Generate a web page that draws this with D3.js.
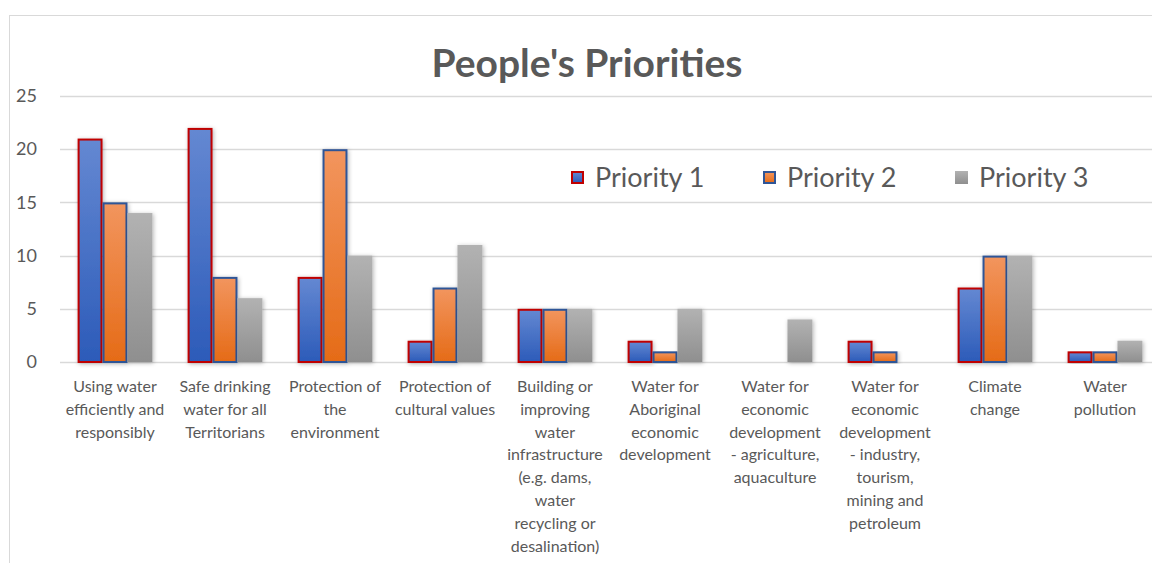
<!DOCTYPE html>
<html>
<head>
<meta charset="utf-8">
<script src="https://cdn.jsdelivr.net/npm/d3@7"></script>
<style>
  body { margin: 0; background: #fff; }
  svg { display: block; font-family: Lato, "Open Sans", sans-serif; }
</style>
</head>
<body>
<div id="chart"></div>
<script>
// chart data
var categories = [
  ["Using water", "efficiently and", "responsibly"],
  ["Safe drinking", "water for all", "Territorians"],
  ["Protection of", "the", "environment"],
  ["Protection of", "cultural values"],
  ["Building or", "improving", "water", "infrastructure", "(e.g. dams,", "water", "recycling or", "desalination)"],
  ["Water for", "Aboriginal", "economic", "development"],
  ["Water for", "economic", "development", "- agriculture,", "aquaculture"],
  ["Water for", "economic", "development", "- industry,", "tourism,", "mining and", "petroleum"],
  ["Climate", "change"],
  ["Water", "pollution"]
];
var seriesNames = ["Priority 1", "Priority 2", "Priority 3"];
var priority1 = [21, 22, 8, 2, 5, 2, 0, 2, 7, 1];
var priority2 = [15, 8, 20, 7, 5, 1, 0, 1, 10, 1];
var priority3 = [14, 6, 10, 11, 5, 5, 4, 0, 10, 2];
var yTicks = [0, 5, 10, 15, 20, 25];

var svgWidth = 1152;
var svgHeight = 563;

var svg = d3.select("#chart")
  .append("svg")
  .attr("width", svgWidth)
  .attr("height", svgHeight);

var defs = svg.append("defs");

// gradients for the bars
var fills = [
  {id: "g1", top: "#6488d2", bottom: "#2c5bb9", stroke: "#c00000"},
  {id: "g2", top: "#f2955e", bottom: "#e56b17", stroke: "#2f5597"},
  {id: "g3", top: "#b2b2b2", bottom: "#8f8f8f", stroke: "none"}
];
fills.forEach(function(f) {
  var g = defs.append("linearGradient")
    .attr("id", f.id)
    .attr("x1", 0).attr("y1", 0).attr("x2", 0).attr("y2", 1);
  g.append("stop").attr("offset", "0%").attr("stop-color", f.top);
  g.append("stop").attr("offset", "100%").attr("stop-color", f.bottom);
});

var shadow = defs.append("filter")
  .attr("id", "shadow")
  .attr("x", "-30%").attr("y", "-10%")
  .attr("width", "160%").attr("height", "130%");
shadow.append("feDropShadow")
  .attr("dx", 1).attr("dy", 1)
  .attr("stdDeviation", 2)
  .attr("flood-color", "#000")
  .attr("flood-opacity", 0.3);

// outer chart frame
svg.append("rect")
  .attr("x", 9.5).attr("y", 15.5)
  .attr("width", 1200).attr("height", 600)
  .attr("fill", "none")
  .attr("stroke", "#d9d9d9");

// scales
var x0 = d3.scaleBand()
  .domain(d3.range(categories.length))
  .range([60, 1160])
  .paddingInner(0.32)
  .paddingOuter(0.16);

var x1 = d3.scaleBand()
  .domain(d3.range(seriesNames.length))
  .range([0, x0.bandwidth()]);

var yScale = d3.scaleLinear()
  .domain([0, 25])
  .range([362, 96]);

// gridlines
svg.append("g")
  .selectAll("line")
  .data(yTicks)
  .enter()
  .append("line")
  .attr("x1", 60)
  .attr("x2", 1160)
  .attr("y1", d => Math.round(yScale(d)) + 0.5)
  .attr("y2", d => Math.round(yScale(d)) + 0.5)
  .attr("stroke", "#d9d9d9")
  .attr("stroke-width", 1.5);

// left axis labels
var leftAxis = d3.axisLeft(yScale).tickValues(yTicks).tickSize(0).tickPadding(0);
var yAxisG = svg.append("g")
  .attr("transform", "translate(37, 0)")
  .call(leftAxis);
yAxisG.select(".domain").remove();
yAxisG.selectAll("text")
  .attr("font-size", 18)
  .attr("font-family", "Lato, sans-serif")
  .attr("fill", "#595959");

// bars
var series = [priority1, priority2, priority3];
var barData = [];
series.forEach(function(vals, s) {
  vals.forEach(function(v, i) {
    barData.push({s: s, i: i, v: v});
  });
});

svg.append("g")
  .selectAll("rect")
  .data(barData.filter(d => d.v > 0))
  .enter()
  .append("rect")
  .attr("x", d => x0(d.i) + x1(d.s) + (d.s < 2 ? 1 : 0))
  .attr("y", d => yScale(d.v) + (d.s < 2 ? 1 : 0))
  .attr("width", d => x1.bandwidth() - (d.s < 2 ? 2 : 0))
  .attr("height", d => yScale(0) - yScale(d.v) - (d.s < 2 ? 1 : 0))
  .attr("fill", d => "url(#" + fills[d.s].id + ")")
  .attr("stroke", d => fills[d.s].stroke)
  .attr("stroke-width", 2)
  .attr("filter", "url(#shadow)");

// category labels
var labelG = svg.append("g");
categories.forEach(function(lines, i) {
  var t = labelG.append("text")
    .attr("x", x0(i) + x0.bandwidth() / 2)
    .attr("y", 392)
    .attr("text-anchor", "middle")
    .attr("font-size", 16)
    .attr("fill", "#595959");
  lines.forEach(function(line, k) {
    t.append("tspan")
      .attr("x", x0(i) + x0.bandwidth() / 2)
      .attr("dy", k === 0 ? 0 : 22.8)
      .text(line);
  });
});

// title
svg.append("text")
  .attr("x", 587)
  .attr("y", 77)
  .attr("text-anchor", "middle")
  .attr("font-size", 39)
  .attr("font-weight", "bold")
  .attr("fill", "#595959")
  .text("People's Priorities");

// legend
var legendX = [571, 763, 955];
var legend = svg.append("g");
seriesNames.forEach(function(name, s) {
  legend.append("rect")
    .attr("x", legendX[s] + (s < 2 ? 1 : 0))
    .attr("y", 171 + (s < 2 ? 1 : 0))
    .attr("width", s < 2 ? 11 : 13)
    .attr("height", s < 2 ? 11 : 13)
    .attr("fill", "url(#" + fills[s].id + ")")
    .attr("stroke", fills[s].stroke)
    .attr("stroke-width", 2);
  legend.append("text")
    .attr("x", legendX[s] + 24)
    .attr("y", 187)
    .attr("font-size", 27)
    .attr("fill", "#595959")
    .text(name);
});
</script>
</body>
</html>
